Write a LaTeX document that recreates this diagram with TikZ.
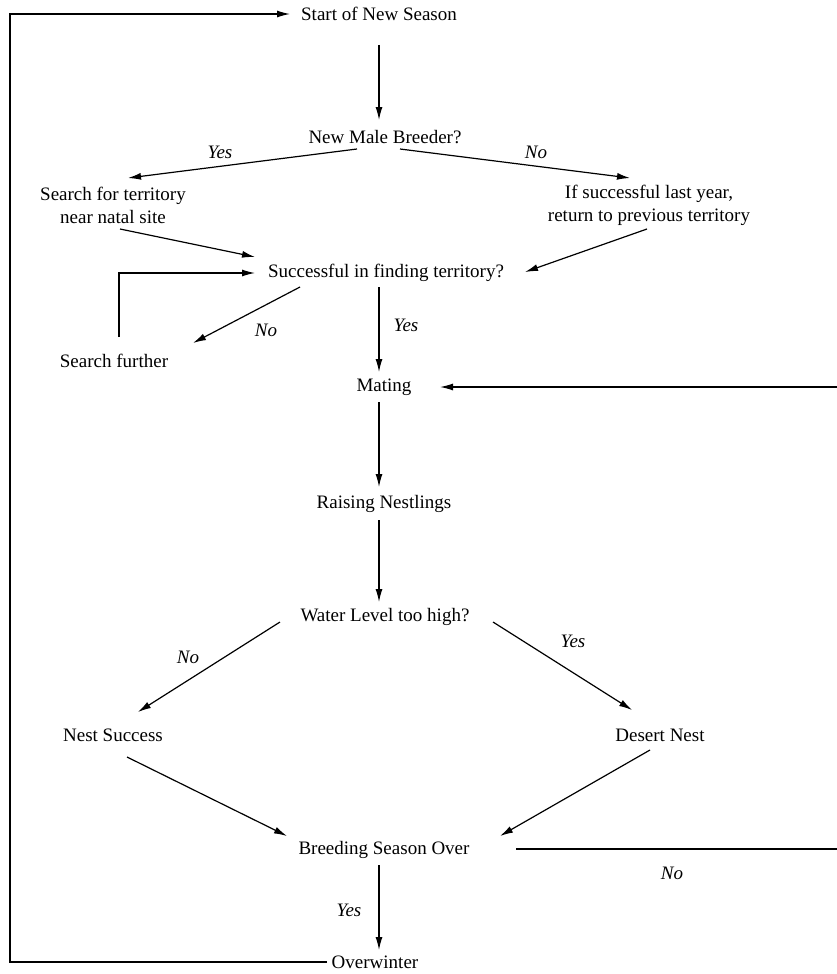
\documentclass[tikz,border=0pt]{standalone}
\usepackage{fontspec}
\setmainfont{Liberation Serif}
\usetikzlibrary{arrows.meta}

\begin{document}
\begin{tikzpicture}[x = 1pt, y = -1pt]
\tikzstyle{StepStyle}=[
inner sep = 0pt,
align = center,
font = \fontsize{19}{23}\selectfont]
\tikzstyle{AnswerStyle}=[
inner sep = 0pt,
font = \fontsize{19}{23}\selectfont\itshape]
\tikzstyle{EdgeStyle}=[
line width = 1.2pt,
-{Latex[length = 13pt, width = 7pt]}]
\useasboundingbox (0,0) rectangle (837,974);
% steps
\node[StepStyle] (start) at (379,14) {Start of New Season};
\node[StepStyle] (breeder) at (385,137) {New Male Breeder?};
\node[StepStyle] (natal) at (113,205) {Search for territory\\near natal site};
\node[StepStyle] (previous) at (649,205) {If successful last year,\\return to previous territory};
\node[StepStyle] (finding) at (386,273) {Successful in finding territory?};
\node[StepStyle] (further) at (114,361) {Search further};
\node[StepStyle] (mating) at (384,387) {Mating};
\node[StepStyle] (raising) at (384,504) {Raising Nestlings};
\node[StepStyle] (water) at (385,617) {Water Level too high?};
\node[StepStyle] (success) at (113,735) {Nest Success};
\node[StepStyle] (desert) at (660,735) {Desert Nest};
\node[StepStyle] (over) at (384,850) {Breeding Season Over};
\node[StepStyle] (winter) at (375,962) {Overwinter};
\coordinate (retry) at (837,387);
\coordinate (back) at (837,849);
% answers
\node[AnswerStyle] (yesNatal) at (220,152) {Yes};
\node[AnswerStyle] (noPrevious) at (536,152) {No};
\node[AnswerStyle] (noFurther) at (266,330) {No};
\node[AnswerStyle] (yesMating) at (406,325) {Yes};
\node[AnswerStyle] (noSuccess) at (188,657) {No};
\node[AnswerStyle] (yesDesert) at (573,641) {Yes};
\node[AnswerStyle] (noRetry) at (672,873) {No};
\node[AnswerStyle] (yesWinter) at (349,910) {Yes};
% connectors
\draw[EdgeStyle] ([shift={(0,31)}]start.center) -- ([shift={(-6,-17)}]breeder.center);
\draw[EdgeStyle] ([shift={(-28,12)}]breeder.center) -- ([shift={(15,-27)}]natal.center);
\draw[EdgeStyle] ([shift={(15,12)}]breeder.center) -- ([shift={(-19,-27)}]previous.center);
\draw[EdgeStyle] ([shift={(7,24)}]natal.center) -- ([shift={(-131,-16)}]finding.center);
\draw[EdgeStyle] ([shift={(-2,24)}]previous.center) -- ([shift={(139,-1)}]finding.center);
\draw[EdgeStyle] ([shift={(5,-24)}]further.center) |- ([shift={(-131,0)}]finding.center);
\draw[EdgeStyle] ([shift={(-86,14)}]finding.center) -- ([shift={(79,-18)}]further.center);
\draw[EdgeStyle] ([shift={(-7,14)}]finding.center) -- ([shift={(-5,-15)}]mating.center);
\draw[EdgeStyle] (retry) -- ([shift={(56,0)}]mating.center);
\draw[EdgeStyle] ([shift={(-5,15)}]mating.center) -- ([shift={(-5,-17)}]raising.center);
\draw[EdgeStyle] ([shift={(-5,16)}]raising.center) -- ([shift={(-6,-15)}]water.center);
\draw[EdgeStyle] ([shift={(-105,5)}]water.center) -- ([shift={(25,-23)}]success.center);
\draw[EdgeStyle] ([shift={(108,5)}]water.center) -- ([shift={(-28,-25)}]desert.center);
\draw[EdgeStyle] ([shift={(14,22)}]success.center) -- ([shift={(-97,-14)}]over.center);
\draw[EdgeStyle] ([shift={(-10,15)}]desert.center) -- ([shift={(116,-14)}]over.center);
\draw[line width = 1.2pt] ([shift={(132,-1)}]over.center) -- (back);
\draw[EdgeStyle] ([shift={(-5,15)}]over.center) -- ([shift={(4,-12)}]winter.center);
\draw[EdgeStyle] ([shift={(-48,0)}]winter.center) -- ++(-317,0) |- ([shift={(-89,0)}]start.center);
\end{tikzpicture}
\end{document}
